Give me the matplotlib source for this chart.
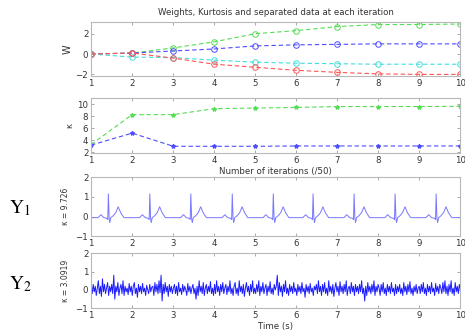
import numpy as np
import matplotlib.pyplot as plt

plt.rcParams['font.family'] = ['DejaVu Sans']
plt.rcParams['mathtext.fontset'] = 'stix'

# iterations (/50)
iters = [1, 2, 3, 4, 5, 6, 7, 8, 9, 10]
w_green = [0.0, 0.1, 0.6, 1.2, 2.0, 2.3, 2.7, 2.9, 2.9, 2.95]
w_blue = [0.0, 0.1, 0.3, 0.5, 0.8, 0.9, 0.95, 1.0, 1.0, 1.0]
w_cyan = [0.0, -0.3, -0.35, -0.6, -0.8, -0.9, -0.95, -1.0, -1.0, -1.0]
w_red = [0.0, 0.1, -0.4, -1.0, -1.3, -1.6, -1.8, -1.95, -2.0, -2.0]
k_green = [3.3, 8.3, 8.3, 9.3, 9.4, 9.5, 9.65, 9.65, 9.65, 9.7]
k_blue = [3.2, 5.2, 3.0, 3.0, 3.0, 3.05, 3.05, 3.05, 3.05, 3.05]

# separated source 1 (ECG-like): beat times and one beat shape
beat_times = [1.42, 2.43, 3.43, 4.44, 5.44, 6.41, 7.41, 8.41, 9.41]
beat_dt = [-0.45, -0.25, -0.18, -0.11, -0.04, -0.015, 0.0, 0.02, 0.035,
           0.06, 0.12, 0.18, 0.24, 0.30, 0.38, 0.55]
beat_v = [-0.05, -0.05, 0.1, -0.05, -0.08, -0.15, 1.15, -0.1, -0.3,
          -0.05, 0.05, 0.2, 0.5, 0.2, -0.05, -0.05]

# separated source 2 (noise-like)
y2 = [
    0.1, -0.2, 0.3, -0.1, 0.2, -0.3, 0.1, 0.5, -0.2, 0.2, -0.35, 0.6, -0.1, 0.3, -0.2, 0.1, 0.4, -0.3, 0.2, -0.1,
    0.3, -0.2, 0.8, -0.5, 0.2, -0.1, 0.4, -0.3, 0.1, 0.3, -0.2, 0.5, -0.3, 0.2, -0.1, 0.1, -0.25, 0.35, -0.1, 0.2,
    -0.3, 0.2, 0.4, -0.2, 0.1, -0.4, 0.3, -0.1, 0.2, -0.2, 0.35, -0.1, 0.1, -0.3, 0.25, 0.0, -0.2, 0.3, -0.1, 0.15,
    0.2, -0.3, 0.4, -0.1, 0.3, -0.2, 0.5, -0.15, 0.8, -0.6, 0.3, -0.2, 0.4, -0.1, 0.2, -0.35, 0.3, -0.1, 0.2, -0.2,
    0.1, 0.3, -0.2, 0.2, -0.3, 0.4, -0.1, 0.1, -0.25, 0.3, -0.1, 0.2, 0.0, -0.3, 0.35, -0.1, 0.2, -0.2, 0.1, 0.3,
    -0.2, 0.1, -0.5, 0.2, -0.3, 0.5, -0.1, 0.2, -0.2, 0.4, -0.3, 0.1, 0.3, -0.2, 0.2, -0.1, 0.45, -0.2, 0.1, -0.3,
    0.3, -0.2, 0.5, -0.1, 0.2, -0.3, 0.3, -0.1, 0.4, -0.2, 0.1, 0.3, -0.25, 0.2, -0.1, 0.5, -0.2, 0.1, -0.3, 0.2,
    0.4, -0.2, 0.1, -0.3, 0.5, -0.1, 0.2, -0.2, 0.3, -0.35, 0.1, 0.4, -0.1, 0.2, -0.3, 0.3, -0.1, 0.5, -0.2, 0.1,
    -0.2, 0.3, -0.1, 0.5, -0.3, 0.2, -0.1, 0.4, -0.2, 0.1, 0.3, -0.3, 0.2, -0.1, 0.45, -0.2, 0.1, -0.25, 0.3, 0.0,
    0.2, 0.8, -0.3, 0.4, -0.1, 0.2, -0.35, 0.3, -0.1, 0.5, -0.2, 0.1, -0.3, 0.3, -0.1, 0.2, -0.2, 0.4, -0.1, 0.1,
    -0.3, 0.3, -0.1, 0.2, -0.2, 0.4, -0.1, 0.1, -0.4, 0.3, -0.1, 0.2, -0.2, 0.35, -0.1, 0.1, -0.3, 0.2, 0.0, 0.3,
    -0.2, 0.5, -0.1, 0.2, -0.3, 0.3, -0.1, 0.4, -0.2, 0.1, -0.3, 0.5, -0.1, 0.2, -0.2, 0.3, -0.35, 0.1, 0.4, -0.1,
    0.2, -0.3, 0.45, -0.1, 0.2, -0.2, 0.3, -0.1, 0.5, -0.3, 0.1, 0.2, -0.2, 0.4, -0.1, 0.2, -0.3, 0.3, -0.1, 0.2,
    -0.2, 0.3, -0.1, 0.5, -0.2, 0.1, -0.6, 0.2, -0.3, 0.4, -0.1, 0.2, -0.2, 0.3, -0.1, 0.5, -0.3, 0.2, -0.1, 0.3,
    0.1, -0.3, 0.3, -0.1, 0.4, -0.2, 0.1, -0.3, 0.3, -0.1, 0.2, -0.2, 0.4, -0.1, 0.1, -0.3, 0.3, -0.2, 0.2, -0.1,
    0.3, -0.2, 0.1, -0.3, 0.4, -0.1, 0.2, -0.25, 0.3, -0.1, 0.45, -0.2, 0.1, -0.3, 0.2, -0.1, 0.3, -0.2, 0.1, 0.2,
    -0.2, 0.3, -0.1, 0.4, -0.2, 0.1, -0.3, 0.3, -0.1, 0.2, -0.2, 0.4, -0.1, 0.1, -0.3, 0.35, -0.1, 0.2, -0.2, 0.3,
    0.1, -0.2, 0.4, -0.1, 0.5, -0.2, 0.2, -0.3, 0.3, -0.1, 0.5, -0.2, 0.1, -0.3, 0.4, -0.1, 0.2, -0.2, 0.3, 0.0,
]

green = '#55dd55'
blue = '#4d4dff'
cyan = '#44dddd'
red = '#ff5555'
frame = '#b8b8b8'
txt = '#333333'
fs = 6.2


def style(ax):
    for s in ax.spines.values():
        s.set_color(frame)
        s.set_linewidth(0.8)
    ax.tick_params(direction='in', length=2, width=0.5, color='#888888',
                   labelsize=fs, labelcolor=txt, top=True, right=True, pad=2)
    ax.set_xlim(1, 10)
    ax.set_xticks(iters)


fig = plt.figure(figsize=(4.65, 3.33), dpi=100)
ax1 = fig.add_axes([0.196, 0.772, 0.794, 0.162])
ax2 = fig.add_axes([0.196, 0.541, 0.794, 0.165])
ax3 = fig.add_axes([0.196, 0.290, 0.794, 0.178])
ax4 = fig.add_axes([0.196, 0.074, 0.794, 0.166])

for ys, c in [(w_green, green), (w_blue, blue), (w_cyan, cyan), (w_red, red)]:
    ax1.plot(iters, ys, '--o', color=c, lw=0.8, ms=4, mfc='none', mew=0.7,
             dashes=(4, 2.5))
style(ax1)
ax1.set_ylim(-2.15, 3.15)
ax1.set_yticks([-2, 0, 2])
ax1.set_ylabel('W', fontsize=7, color=txt, labelpad=2)
ax1.set_title('Weights, Kurtosis and separated data at each iteration',
              fontsize=fs, color=txt, pad=5)

for ys, c in [(k_green, green), (k_blue, blue)]:
    ax2.plot(iters, ys, '--*', color=c, lw=0.8, ms=3, dashes=(4, 2.5))
style(ax2)
ax2.set_ylim(1.9, 11.1)
ax2.set_yticks([2, 4, 6, 8, 10])
ax2.set_ylabel('κ', fontsize=fs, color=txt, labelpad=2)
ax2.set_xlabel('Number of iterations (/50)', fontsize=fs, color=txt, labelpad=2)

t1 = [1.0]
v1 = [-0.05]
for bt in beat_times:
    for dt, v in zip(beat_dt, beat_v):
        t1.append(bt + dt)
        v1.append(v)
t1.append(10.0)
v1.append(-0.05)
ax3.plot(t1, v1, color='#7777ff', lw=0.7)
style(ax3)
ax3.set_ylim(-1, 2)
ax3.set_yticks([-1, 0, 1, 2])
ax3.set_ylabel('κ = 9.726', fontsize=5.5, color=txt, labelpad=4)

t2 = np.linspace(1, 10, len(y2))
ax4.plot(t2, y2, color='#1a1aff', lw=0.7)
style(ax4)
ax4.set_ylim(-1, 2)
ax4.set_yticks([-1, 0, 1, 2])
ax4.set_ylabel('κ = 3.0919', fontsize=5.5, color=txt, labelpad=4)
ax4.set_xlabel('Time (s)', fontsize=fs, color=txt, labelpad=1)

fig.text(0.02, 0.36, r'$\mathrm{Y}_1$', fontsize=14, color='black')
fig.text(0.02, 0.13, r'$\mathrm{Y}_2$', fontsize=14, color='black')

fig.savefig('out.png', dpi=100)
